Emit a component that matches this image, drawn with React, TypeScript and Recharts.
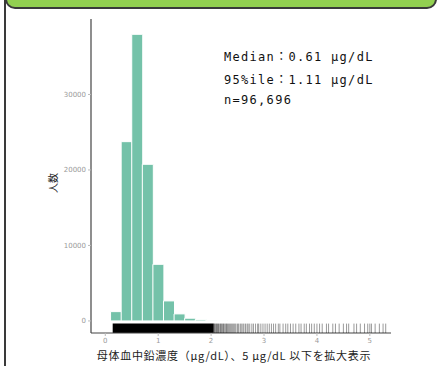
import React from 'react'
import {
  ComposedChart,
  Bar,
  Scatter,
  XAxis,
  YAxis,
  ReferenceArea,
} from 'recharts'

// histogram bins (centre of each 0.2 µg/dL bin) and counts
const binCenters = [0.2, 0.4, 0.6, 0.8, 1.0, 1.2, 1.4, 1.6, 1.8, 2.0, 2.2]
const binCounts = [1230, 23750, 37970, 20750, 7500, 2650, 930, 360, 170, 80, 40]

// rug: solid part, then single marks where the rug thins out
const rugSolid = [0.14, 2.05]
const rugValues = [
  2.06, 2.07, 2.08, 2.1, 2.11, 2.12, 2.14, 2.15, 2.17, 2.18, 2.2, 2.21, 2.23, 2.24,
  2.26, 2.28, 2.29, 2.31, 2.33, 2.35, 2.37, 2.39, 2.41, 2.43, 2.45, 2.47, 2.5,
  2.52, 2.55, 2.57, 2.6, 2.62, 2.65, 2.68, 2.7, 2.73, 2.77, 2.8, 2.84, 2.88, 2.9,
  2.94, 2.98, 3.02, 3.06, 3.1, 3.14, 3.18, 3.22, 3.27, 3.3, 3.36, 3.41, 3.45, 3.5,
  3.55, 3.6, 3.66, 3.7, 3.76, 3.8, 3.86, 3.9, 3.95, 4.0, 4.05, 4.1, 4.18, 4.22,
  4.3, 4.35, 4.42, 4.5, 4.56, 4.6, 4.7, 4.75, 4.82, 4.9, 4.96, 5.0, 5.03, 5.1,
  5.18, 5.25, 5.3,
]

const xTicks = [0, 1, 2, 3, 4, 5]
const yTicks = [0, 10000, 20000, 30000]
const xDomain = [-0.27, 5.4]
const yDomain = [-1600, 40000]

const stats = ['Median：0.61 μg/dL', '95%ile：1.11 μg/dL', 'n=96,696']

const histData = binCenters.map((x, i) => ({ x, count: binCounts[i] }))
const rugData = rugValues.map((x) => ({ x, y: yDomain[0] }))

const RugMark = (props: any) => {
  const { cx, cy } = props
  return (
    <line
      x1={cx}
      x2={cx}
      y1={cy + 1}
      y2={cy - 9.4}
      stroke="#000"
      strokeOpacity={0.5}
      strokeWidth={0.8}
    />
  )
}

export default function App() {
  const tickStyle = { fontSize: 7, fill: '#9a9a9a', fontFamily: 'DejaVu Sans' }
  return (
    <div
      style={{
        position: 'fixed',
        left: 0,
        top: 0,
        width: 437,
        height: 366,
        background: '#fff',
        overflow: 'hidden',
      }}
    >
      {/* frame: left border + green header band */}
      <div style={{ position: 'absolute', left: 4, top: 0, width: 2, height: 366, background: '#3a3a3a' }} />
      <div
        style={{
          position: 'absolute',
          left: 5,
          top: -20,
          width: 428,
          height: 25,
          background: '#92d050',
          border: '2px solid #3a3a3a',
          borderRadius: 10,
        }}
      />

      <div style={{ position: 'absolute', left: 0, top: 0 }}>
        <ComposedChart
          width={437}
          height={366}
          data={histData}
          barCategoryGap={0}
          margin={{ top: 19, right: 46, bottom: 13, left: 61 }}
        >
          <XAxis
            dataKey="x"
            type="number"
            domain={xDomain}
            allowDataOverflow
            ticks={xTicks}
            height={20}
            tickSize={3}
            tick={tickStyle}
            axisLine={{ stroke: '#444', strokeWidth: 1.2 }}
            tickLine={{ stroke: '#bbb' }}
          />
          <XAxis xAxisId="rug" dataKey="x" type="number" domain={xDomain} allowDataOverflow hide />
          <YAxis
            type="number"
            domain={yDomain}
            allowDataOverflow
            ticks={yTicks}
            width={30}
            tickSize={3}
            tick={tickStyle}
            axisLine={{ stroke: '#444', strokeWidth: 1.2 }}
            tickLine={{ stroke: '#bbb' }}
          />
          <Bar
            dataKey="count"
            fill="#74c2a9"
            stroke="#fff"
            strokeWidth={1}
            isAnimationActive={false}
          />
          <ReferenceArea
            xAxisId="rug"
            x1={rugSolid[0]}
            x2={rugSolid[1]}
            y1={yDomain[0]}
            y2={yDomain[0] + 1245}
            fill="#000"
            fillOpacity={1}
            stroke="none"
          />
          <Scatter
            xAxisId="rug"
            data={rugData}
            dataKey="y"
            shape={<RugMark />}
            isAnimationActive={false}
          />
        </ComposedChart>
      </div>

      {/* y axis title */}
      <div
        style={{
          position: 'absolute',
          left: 52,
          top: 183,
          transform: 'translate(-50%, -50%) rotate(-90deg)',
          fontFamily: '"Noto Sans CJK JP"',
          fontSize: 10,
          color: '#222',
          whiteSpace: 'nowrap',
        }}
      >
        人数
      </div>

      {/* x axis title */}
      <div
        style={{
          position: 'absolute',
          left: 234,
          top: 355,
          transform: 'translate(-50%, -50%)',
          fontFamily: '"Noto Sans CJK JP"',
          fontSize: 11,
          letterSpacing: 0.7,
          color: '#222',
          whiteSpace: 'nowrap',
        }}
      >
        母体血中鉛濃度（μg/dL）、5 μg/dL 以下を拡大表示
      </div>

      {/* summary text */}
      {stats.map((s, i) => (
        <div
          key={s}
          style={{
            position: 'absolute',
            left: 224,
            top: 55 + i * 22.5,
            transform: 'translateY(-50%)',
            fontFamily: '"DejaVu Sans Mono", "Noto Sans CJK JP"',
            fontSize: 12,
            letterSpacing: 1.3,
            color: '#111',
            whiteSpace: 'nowrap',
          }}
        >
          {s}
        </div>
      ))}
    </div>
  )
}
